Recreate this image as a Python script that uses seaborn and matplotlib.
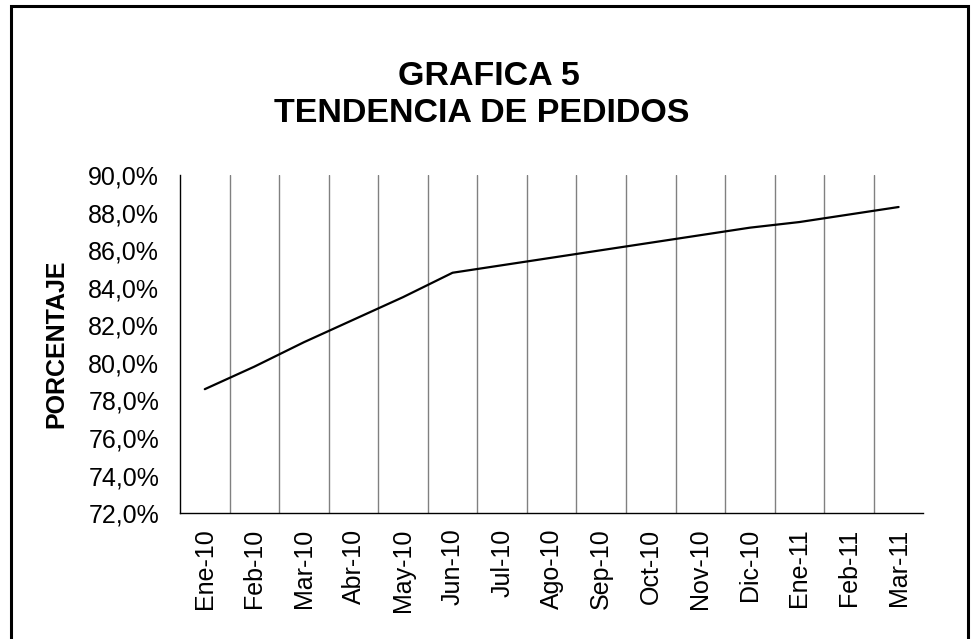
import matplotlib
matplotlib.use("Agg")
import matplotlib.pyplot as plt
import matplotlib.patches as mpatches
from matplotlib.ticker import FixedLocator, FuncFormatter
import numpy as np
import pandas as pd
import seaborn as sns

meses = ['Ene-10', 'Feb-10', 'Mar-10', 'Abr-10', 'May-10', 'Jun-10', 'Jul-10', 'Ago-10',
         'Sep-10', 'Oct-10', 'Nov-10', 'Dic-10', 'Ene-11', 'Feb-11', 'Mar-11']
porcentaje = [78.6, 79.8, 81.1, 82.3, 83.5, 84.8, 85.2, 85.6,
              86.0, 86.4, 86.8, 87.2, 87.5, 87.9, 88.3]
y_ticks = [72, 74, 76, 78, 80, 82, 84, 86, 88, 90]

sns.set_style('white')
plt.rcParams['font.family'] = ['Liberation Sans', 'DejaVu Sans']
plt.rcParams.update({'text.color': 'black', 'axes.labelcolor': 'black',
                     'xtick.color': 'black', 'ytick.color': 'black'})

df = pd.DataFrame({'mes': meses, 'pct': porcentaje})
df['pos'] = np.arange(len(df))

fig = plt.figure(figsize=(9.73, 6.39), dpi=100)
ax = fig.add_axes([0.185, 0.197, 0.764, 0.529])

# vertical grid lines between categories (Excel style)
for b in np.arange(0.5, len(meses) - 1, 1.0):
    ax.axvline(b, color='#808080', linewidth=1.0, zorder=0)

sns.lineplot(data=df, x='pos', y='pct', color='black', linewidth=1.6, ax=ax)

ax.set_xlim(-0.5, len(meses) - 0.5)
ax.set_ylim(72, 90)
ax.set_xticks(df['pos'])
ax.set_xticklabels(meses, rotation=90, fontsize=18)
ax.xaxis.set_minor_locator(FixedLocator(np.arange(-0.5, len(meses), 1.0)))
ax.tick_params(axis='x', which='major', length=0, pad=11)
ax.tick_params(axis='x', which='minor', length=6, width=1, color='black', direction='out')
ax.set_yticks(y_ticks)
ax.yaxis.set_major_formatter(FuncFormatter(lambda v, p: f'{v:.1f}%'.replace('.', ',')))
ax.tick_params(axis='y', length=6, width=1, color='black', direction='out', labelsize=18, pad=9)
ax.set_xlabel('')
ax.set_ylabel('PORCENTAJE', fontsize=18, fontweight='bold', labelpad=14)

for s in ['top', 'right']:
    ax.spines[s].set_visible(False)
for s in ['left', 'bottom']:
    ax.spines[s].set_color('black')
    ax.spines[s].set_linewidth(1.0)

fig.text(0.502, 0.881, 'GRAFICA 5', ha='center', va='center', fontsize=24.5, fontweight='bold')
fig.text(0.495, 0.822, 'TENDENCIA DE PEDIDOS', ha='center', va='center', fontsize=24.5, fontweight='bold')

# outer chart border
fig.patches.append(mpatches.Rectangle((11 / 973, -0.02), 957 / 973, 1 - 6 / 639 + 0.02,
                                      transform=fig.transFigure, fill=False,
                                      edgecolor='black', linewidth=2.2))

fig.savefig('out.png', dpi=100)
